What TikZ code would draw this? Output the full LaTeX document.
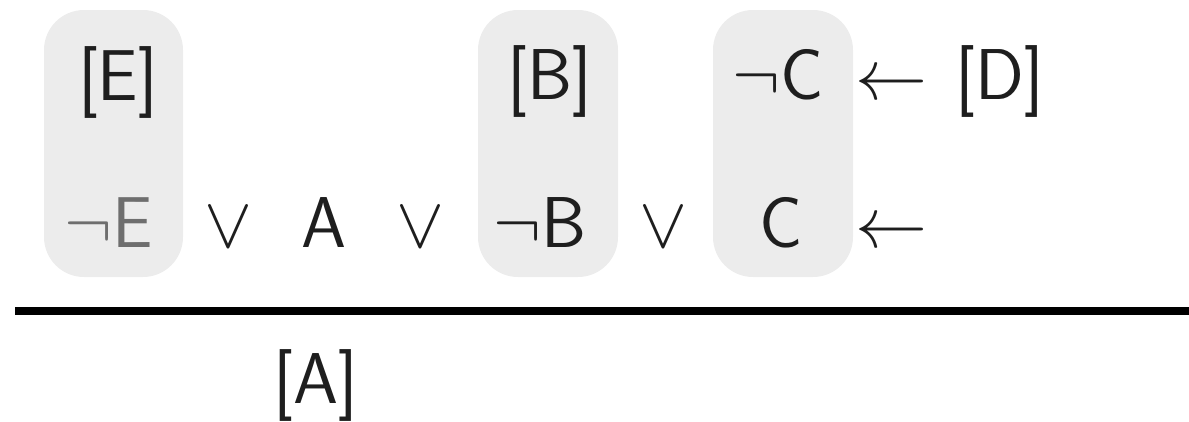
\RequirePackage{fix-cm}
\documentclass[tikz,border=0pt]{standalone}
\definecolor{boxgray}{HTML}{ECECEC}
\definecolor{ink}{HTML}{1E1E1E}
\definecolor{dimink}{HTML}{6E6E6E}
\tikzset{
  litbox/.style={fill=boxgray, rounded corners=40pt},
  lit/.style={inner sep=0pt, anchor=base, text=ink, font=\fontsize{72}{84}\selectfont\sffamily},
  rulebar/.style={draw=black, line width=8pt},
}
\begin{document}
\begin{tikzpicture}[x=1pt,y=-1pt]
  \useasboundingbox (0,0) rectangle (1189,421);
  % shaded groups
  \fill[litbox] (44,10) rectangle (183,277);
  \fill[litbox] (478,10) rectangle (618,277);
  \fill[litbox] (713,10) rectangle (853,277);
  % top row
  \node[lit] (lE) at (118,100) {[E]};
  \node[lit] (lB) at (550,99) {[B]};
  \node[lit] (nCt) at (778,99) {$\neg$C};
  \node[lit] (arT) at (891,99) {$\leftarrow$};
  \node[lit] (lD) at (1000,99) {[D]};
  % clause row
  \node[lit, text=dimink] (nE) at (109,247) {$\neg$E};
  \node[lit] (or1) at (228,247) {$\vee$};
  \node[lit] (A) at (324,247) {A};
  \node[lit] (or2) at (420,247) {$\vee$};
  \node[lit] (nB) at (540,247) {$\neg$B};
  \node[lit] (or3) at (663,247) {$\vee$};
  \node[lit] (C) at (781,247) {C};
  \node[lit] (arB) at (891,247) {$\leftarrow$};
  % inference rule
  \coordinate (ruleL) at (15,311);
  \coordinate (ruleR) at (1189,311);
  \draw[rulebar] (ruleL) -- (ruleR);
  \node[lit] (lA) at (316,403) {[A]};
\end{tikzpicture}
\end{document}
